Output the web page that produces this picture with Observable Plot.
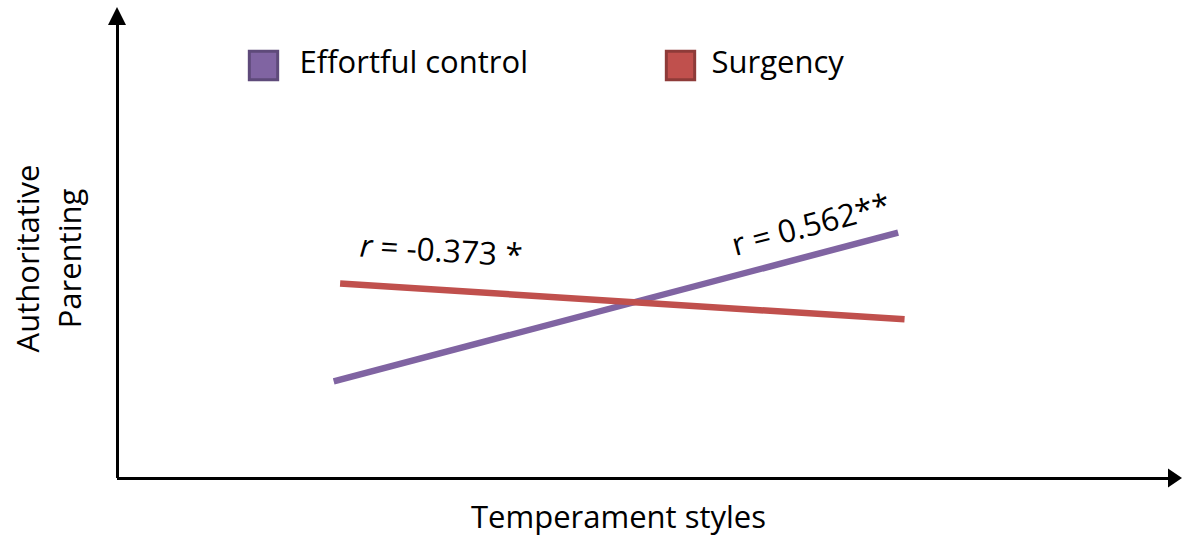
<!DOCTYPE html>
<html>
<head>
<meta charset="utf-8">
<script src="https://cdn.jsdelivr.net/npm/d3@7"></script>
<script src="https://cdn.jsdelivr.net/npm/@observablehq/plot@0.6"></script>
<style>
  html, body { margin: 0; padding: 0; background: #fff; }
  #chart svg { display: block; }
</style>
</head>
<body>
<div id="chart"></div>
<script>
// ---- data (abstract units, no scale on axes) ----
const seriesNames = ["Effortful control", "Surgency"];
const seriesColors = ["#8064A2", "#C0504D"];
const seriesBorders = ["#5E4A7A", "#8E3B39"];
const effortfulX = [2.03, 7.33];
const effortfulY = [2.06, 5.22];
const surgencyX = [2.09, 7.39];
const surgencyY = [4.14, 3.38];
const annotations = ["r = -0.373 *", "r = 0.562**"];
const xTitle = "Temperament styles";
const yTitle = "Authoritative\nParenting";

const effortful = effortfulX.map((x, i) => ({x, y: effortfulY[i], s: seriesNames[0]}));
const surgency = surgencyX.map((x, i) => ({x, y: surgencyY[i], s: seriesNames[1]}));

const W = 1183, H = 538;
const mL = 117, mR = 1, mT = 7, mB = 60;
const font = "'Open Sans', Lato, sans-serif";

const plot = Plot.plot({
  width: W,
  height: H,
  marginLeft: mL,
  marginRight: mR,
  marginTop: mT,
  marginBottom: mB,
  x: {domain: [0, 10], axis: null},
  y: {domain: [0, 10], axis: null},
  style: {fontFamily: font, background: "#fff", overflow: "visible"},
  marks: [
    // axes
    Plot.ruleY([0], {x1: 0, x2: 9.88, stroke: "#000", strokeWidth: 3}),
    Plot.ruleX([0], {y1: 0, y2: 9.62, stroke: "#000", strokeWidth: 3}),
    // series lines
    Plot.line(effortful, {x: "x", y: "y", stroke: seriesColors[0], strokeWidth: 6.5, strokeLinecap: "butt"}),
    Plot.line(surgency, {x: "x", y: "y", stroke: seriesColors[1], strokeWidth: 6.5, strokeLinecap: "butt"}),
    // annotations
    Plot.text([surgency[0]], {x: "x", y: "y", text: () => annotations[0], dx: 101, dy: -32,
      rotate: 3.6, fontSize: 31.5, fill: "#000", textAnchor: "middle", lineAnchor: "middle"}),
    Plot.text([effortful[1]], {x: "x", y: "y", text: () => annotations[1], dx: -87, dy: -7,
      rotate: -14.8, fontSize: 31.5, fill: "#000", textAnchor: "middle", lineAnchor: "middle"}),
    // legend
    Plot.dot([seriesNames[0]], {frameAnchor: "top-left", dx: 263 - mL, dy: 65 - mT, symbol: "square", r: 16,
      fill: seriesColors[0], stroke: seriesBorders[0], strokeWidth: 3}),
    Plot.text([seriesNames[0]], {frameAnchor: "top-left", dx: 299 - mL, dy: 63 - mT, text: d => d,
      textAnchor: "start", lineAnchor: "middle", fontSize: 31, fill: "#000"}),
    Plot.dot([seriesNames[1]], {frameAnchor: "top-left", dx: 680 - mL, dy: 65 - mT, symbol: "square", r: 16,
      fill: seriesColors[1], stroke: seriesBorders[1], strokeWidth: 3}),
    Plot.text([seriesNames[1]], {frameAnchor: "top-left", dx: 711 - mL, dy: 63 - mT, text: d => d,
      textAnchor: "start", lineAnchor: "middle", fontSize: 31, fill: "#000"}),
    // axis titles
    Plot.text([xTitle], {frameAnchor: "bottom-left", dx: 618 - mL, dy: 40, text: d => d,
      textAnchor: "middle", lineAnchor: "middle", fontSize: 31, fill: "#000"}),
    Plot.text([yTitle], {frameAnchor: "top-left", dx: 46 - mL, dy: 258 - mT, text: d => d,
      rotate: -90, textAnchor: "middle", lineAnchor: "middle", lineHeight: 1.35, fontSize: 31, fill: "#000"})
  ]
});

// arrowheads placed via the plot's own scales
const sx = plot.scale("x"), sy = plot.scale("y");
const svg = d3.select(plot);
const ox = sx.apply(0), oy = sy.apply(0);
const tipY = sy.apply(10), tipX = sx.apply(10);
svg.append("polygon")
  .attr("points", [[ox, tipY], [ox - 9, tipY + 18], [ox + 9, tipY + 18]].map(p => p.join(",")).join(" "))
  .attr("fill", "#000");
svg.append("polygon")
  .attr("points", [[tipX, oy], [tipX - 14, oy - 9.5], [tipX - 14, oy + 9.5]].map(p => p.join(",")).join(" "))
  .attr("fill", "#000");

// italic "r" in the first annotation
svg.selectAll("text").filter(function () { return this.textContent === annotations[0]; })
  .each(function () {
    const t = d3.select(this);
    t.text(null);
    t.append("tspan").attr("font-style", "italic").text(annotations[0].slice(0, 1));
    t.append("tspan").text(annotations[0].slice(1));
  });

document.getElementById("chart").appendChild(plot);
</script>
</body>
</html>
